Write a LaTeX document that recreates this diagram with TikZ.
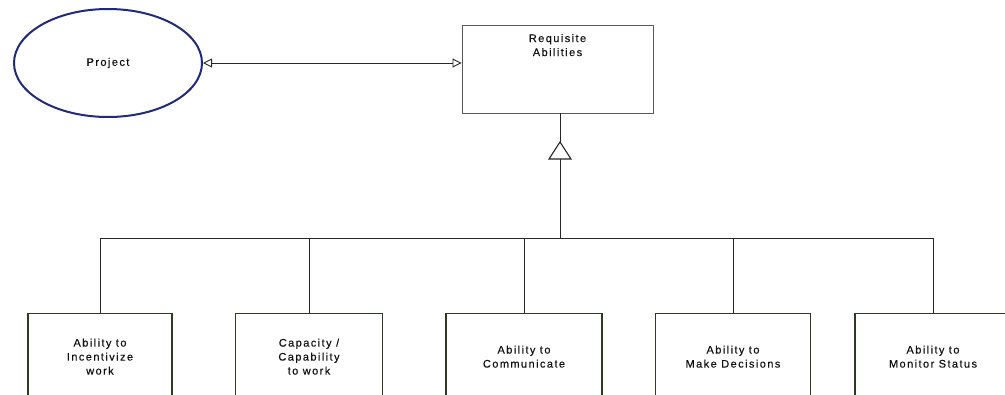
\documentclass[tikz,border=0pt]{standalone}
\usepackage{fontspec}
\setmainfont{Liberation Sans}[LetterSpace=13, FakeBold=0.4]
\usetikzlibrary{arrows.meta,shapes.geometric}

\definecolor{navy}{HTML}{1F2A7A}
\definecolor{boxedge}{HTML}{2E3A22}
\definecolor{txt}{HTML}{111111}

\tikzset{
  every node/.style={text=txt, font=\fontsize{11}{14}\selectfont, align=center},
  wire/.style={draw=black!85, line width=0.9pt},
  projnode/.style={ellipse, draw=navy, line width=2pt, minimum width=188pt, minimum height=108pt},
  reqbox/.style={rectangle, draw=black!65, line width=0.9pt, minimum width=191pt, minimum height=88pt},
  childbox/.style={rectangle, draw=boxedge, line width=1.3pt, minimum height=86pt, anchor=north},
  openhead/.tip={Triangle[open, length=9pt, width=9pt, line width=0.9pt]},
}

\begin{document}
\begin{tikzpicture}[x=1pt, y=-1pt]
  \useasboundingbox (0,0) rectangle (1005,394);
  \clip (0,0) rectangle (1005,394);

  % top row: project and the abilities it needs
  \node[projnode] (proj) at (108,63) {Project};
  \node[reqbox, label={[anchor=north, yshift=-6pt]north:Requisite\\Abilities}] (req) at (557.5,69) {};

  \draw[wire, openhead-openhead] (proj.east) -- (req.west |- proj.east);

  % generalisation marker under the abilities box
  \coordinate (apex) at (560,142);
  \coordinate (base) at (560,159);
  \coordinate (bus) at (0,238);
  \draw[wire] (req.south -| apex) -- (apex);
  \draw[wire, line width=1.1pt, fill=white] (apex) -- (549,159) -- (571,159) -- cycle;
  \draw[wire] (base) -- (base |- bus);

  % the five specific abilities
  \node[childbox, minimum width=144pt] (c1) at (100,313) {Ability to\\Incentivize\\work};
  \node[childbox, minimum width=147pt] (c2) at (309,313) {Capacity /\\Capability\\to work};
  \node[childbox, minimum width=156pt] (c3) at (524,313) {Ability to\\Communicate};
  \node[childbox, minimum width=155pt] (c4) at (733,313) {Ability to\\Make Decisions};
  \node[childbox, minimum width=156pt] (c5) at (933,313) {Ability to\\Monitor Status};

  % bus joining them to the marker
  \draw[wire] (c1.north |- bus) -- (c5.north |- bus);
  \foreach \c in {c1,c2,c3,c4,c5}
    \draw[wire] (\c.north) -- (\c.north |- bus);
\end{tikzpicture}
\end{document}
